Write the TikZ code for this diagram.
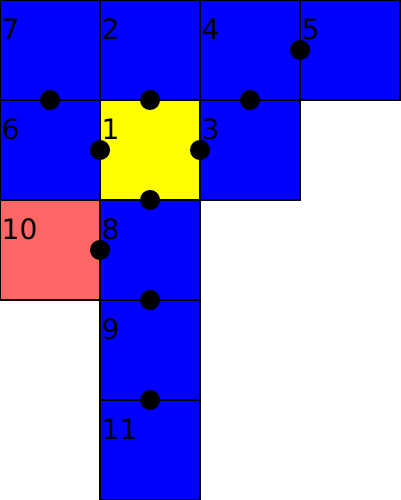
\documentclass[tikz,border=0pt]{standalone}
\usepackage{fontspec}
\setmainfont{DejaVu Sans}
\definecolor{cblue}{HTML}{0000FF}
\definecolor{cyellow}{HTML}{FFFF00}
\definecolor{cred}{HTML}{FF6666}
\begin{document}
\begin{tikzpicture}[
  cell/.style={draw=black, line width=0.4pt, minimum size=1cm, inner sep=0pt, outer sep=0pt, anchor=north west},
  lbl/.style={anchor=base west, inner sep=0pt, font=\fontsize{8}{8}\selectfont},
  dot/.style={circle, fill=black, minimum size=0.2cm, inner sep=0pt}
]
\useasboundingbox (0,0) rectangle (4,5);
% cells (north-west corners)
\node[cell, fill=cblue] (c7) at (0,5) {};
\node[cell, fill=cblue] (c2) at (1,5) {};
\node[cell, fill=cblue] (c4) at (2,5) {};
\node[cell, fill=cblue] (c5) at (3,5) {};
\node[cell, fill=cblue] (c6) at (0,4) {};
\node[cell, fill=cyellow] (c1) at (1,4) {};
\node[cell, fill=cblue] (c3) at (2,4) {};
\node[cell, fill=cred] (c10) at (0,3) {};
\node[cell, fill=cblue] (c8) at (1,3) {};
\node[cell, fill=cblue] (c9) at (1,2) {};
\node[cell, fill=cblue] (c11) at (1,1) {};
% labels
\foreach \n in {7,2,4,5,6,1,3,10,8,9,11}{
  \node[lbl] (l\n) at ([xshift=0.01cm,yshift=-0.40cm]c\n.north west) {\n};
}
% dots
\node[dot] (d1) at (c7.south) {};
\node[dot] (d2) at (c2.south) {};
\node[dot] (d3) at (c4.south) {};
\node[dot] (d4) at (c5.west) {};
\node[dot] (d5) at (c1.west) {};
\node[dot] (d6) at (c1.east) {};
\node[dot] (d7) at (c1.south) {};
\node[dot] (d8) at (c8.west) {};
\node[dot] (d9) at (c8.south) {};
\node[dot] (d10) at (c9.south) {};
\end{tikzpicture}
\end{document}
